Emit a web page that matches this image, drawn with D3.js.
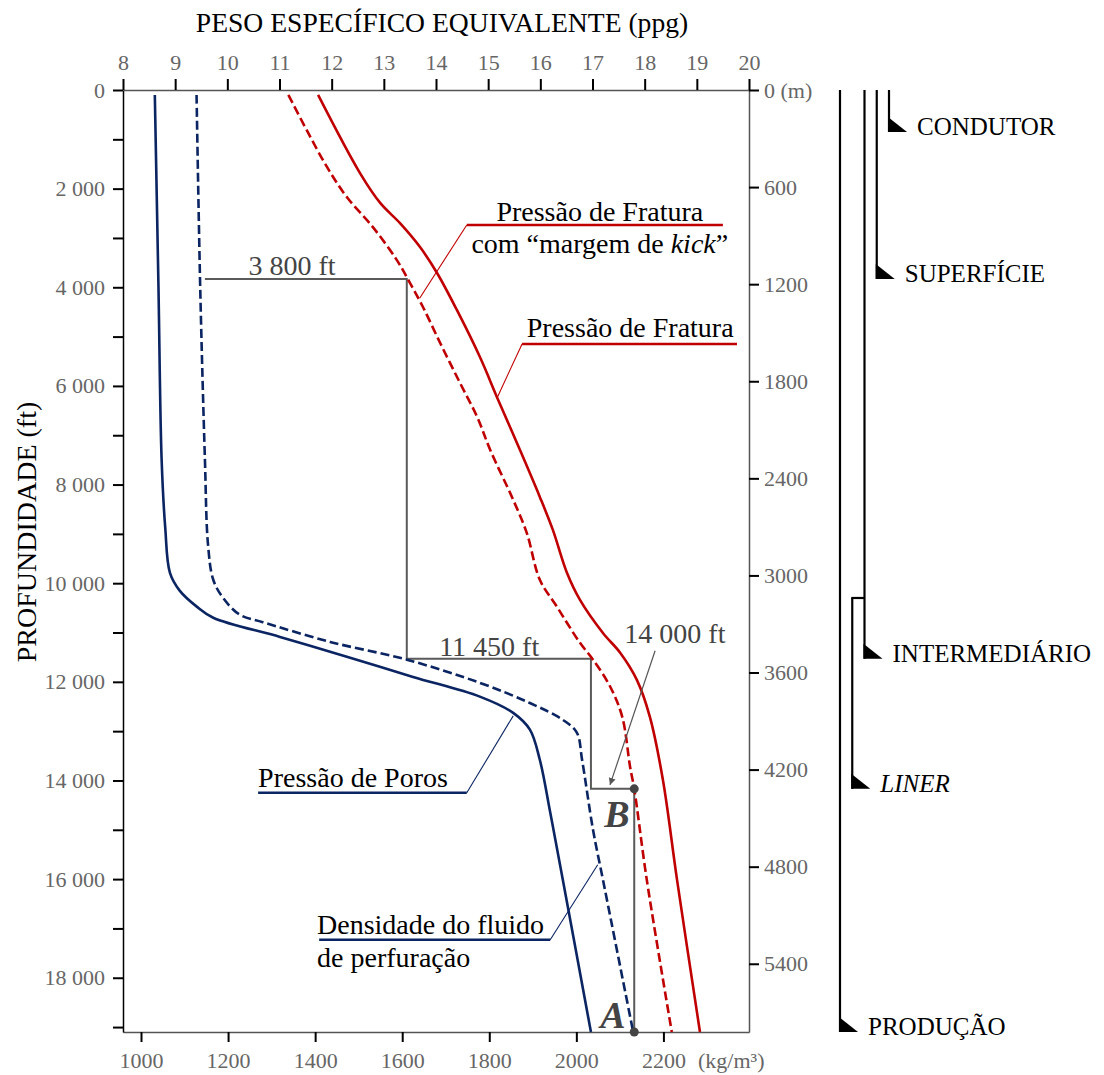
<!DOCTYPE html>
<html>
<head>
<meta charset="utf-8">
<script src="https://cdn.jsdelivr.net/npm/d3@7/dist/d3.min.js"></script>
<style>
  body { margin: 0; background: #fff; }
  svg text { font-family: "Liberation Serif", "Times New Roman", serif; }
</style>
</head>
<body>
<div id="chart"></div>
<script>

// Curves: depth (ft) and equivalent mud weight (ppg).
const poreDepth = [100, 4000, 7480, 8880, 9790, 10155, 10480, 10700, 11090, 11490, 11900, 12300, 12630, 12970, 13580, 14650, 16010, 19100];
const porePpg   = [8.61, 8.68, 8.74, 8.81, 8.90, 9.09, 9.42, 9.73, 11.01, 12.29, 13.56, 14.84, 15.48, 15.80, 15.99, 16.19, 16.43, 16.97];

const mudDepth = [100, 4000, 7480, 9220, 9930, 10300, 10640, 10790, 11190, 11550, 12020, 12430, 12770, 13030, 13580, 15000, 16010, 19100];
const mudPpg   = [9.41, 9.48, 9.57, 9.63, 9.73, 9.92, 10.24, 10.68, 11.97, 13.44, 14.84, 15.80, 16.43, 16.70, 16.80, 17.01, 17.20, 17.78];

const fracDepth = [100, 1680, 2290, 2700, 3180, 3710, 4460, 5410, 6280, 7300, 8250, 8920, 9790, 10340, 11010, 11410, 11960, 12710, 13990, 16010, 19100];
const fracPpg   = [11.74, 12.54, 12.93, 13.31, 13.69, 14.02, 14.40, 14.84, 15.19, 15.61, 15.99, 16.24, 16.51, 16.76, 17.20, 17.53, 17.85, 18.10, 18.35, 18.62, 19.06];

const kickDepth = [100, 810, 1560, 2170, 2780, 3450, 3910, 4400, 5130, 5940, 6630, 7300, 8310, 8980, 9930, 10480, 11210, 11550, 12100, 12710, 13720, 14170, 16010, 19100];
const kickPpg   = [11.17, 11.52, 11.91, 12.29, 12.79, 13.25, 13.50, 13.75, 14.08, 14.46, 14.79, 15.04, 15.48, 15.74, 15.99, 16.32, 16.76, 17.01, 17.34, 17.57, 17.72, 17.80, 18.04, 18.52];

// Casing seats (step line) and points B / A.
const stepDepth = [3830, 11530, 14170, 19100];
const stepPpg   = [9.57, 13.44, 16.97, 17.80];
const stepLabels = ["3 800 ft", "11 450 ft", "14 000 ft"];

// Casing scheme.
const casingNames = ["PRODUÇÃO", "LINER", "INTERMEDIÁRIO", "SUPERFÍCIE", "CONDUTOR"];
const casingTop   = [0, 10300, 0, 0, 0];
const casingShoe  = [19100, 14170, 11530, 3830, 850];

// Ticks.
const ppgTicks   = [8, 9, 10, 11, 12, 13, 14, 15, 16, 17, 18, 19, 20];
const ftTicks    = [0, 1000, 2000, 3000, 4000, 5000, 6000, 7000, 8000, 9000, 10000, 11000, 12000, 13000, 14000, 15000, 16000, 17000, 18000, 19000];
const meterTicks = [0, 600, 1200, 1800, 2400, 3000, 3600, 4200, 4800, 5400];
const kgTicks    = [1000, 1200, 1400, 1600, 1800, 2000, 2200];

const KG_PER_PPG = 119.83;
const FT_PER_M = 3.28084;

const navy = "#0b2462";
const red = "#c00000";
const grey = "#444";
const tickGrey = "#666";

// Set up the SVG.
const svg = d3.select("#chart").append("svg")
    .attr("width", 1104)
    .attr("height", 1075);

const x = d3.scaleLinear().domain([8, 20]).range([123, 749]);
const y = d3.scaleLinear().domain([0, 19100]).range([90, 1032]);
const xKg = d3.scaleLinear().domain([8 * KG_PER_PPG, 20 * KG_PER_PPG]).range(x.range());
const yM = d3.scaleLinear().domain([0, 19100 / FT_PER_M]).range(y.range());

const spaceFmt = d => d3.format(",")(d).replace(",", " ");

function styleAxis(g, domainColor) {
    g.select(".domain").attr("stroke", domainColor).attr("stroke-width", 1.5);
    g.selectAll(".tick line").attr("stroke", "#000").attr("stroke-width", 2);
    g.selectAll(".tick text")
        .attr("fill", tickGrey)
        .attr("font-size", 22)
        .attr("font-family", "Liberation Serif");
}

// Top axis (ppg)
svg.append("g")
    .attr("transform", "translate(0,90)")
    .call(d3.axisTop(x).tickValues(ppgTicks).tickSize(11).tickSizeOuter(0).tickPadding(9))
    .call(g => styleAxis(g, "#555"));

// Bottom axis (kg/m3)
svg.append("g")
    .attr("transform", "translate(0,1032)")
    .call(d3.axisBottom(xKg).tickValues(kgTicks).tickSize(10).tickSizeOuter(0).tickPadding(10)
        .tickFormat(d3.format("d")))
    .call(g => styleAxis(g, "#555"));

// Left axis (ft)
svg.append("g")
    .attr("transform", "translate(123,0)")
    .call(d3.axisLeft(y).tickValues(ftTicks).tickSize(10).tickSizeOuter(0).tickPadding(8)
        .tickFormat(d => d % 2000 === 0 ? spaceFmt(d) : ""))
    .call(g => styleAxis(g, "#000"));

// Right axis (m)
svg.append("g")
    .attr("transform", "translate(749,0)")
    .call(d3.axisRight(yM).tickValues(meterTicks).tickSize(10).tickSizeOuter(0).tickPadding(5)
        .tickFormat(d => d === 0 ? "0 (m)" : d))
    .call(g => styleAxis(g, "#555"));

svg.append("text")
    .attr("x", 698).attr("y", 1068)
    .attr("fill", tickGrey).attr("font-size", 22)
    .text("(kg/m³)");

// Axis titles
svg.append("text")
    .attr("x", 442).attr("y", 32)
    .attr("text-anchor", "middle")
    .attr("font-size", 27.6)
    .text("PESO ESPECÍFICO EQUIVALENTE (ppg)");

svg.append("text")
    .attr("transform", "translate(36,532) rotate(-90)")
    .attr("text-anchor", "middle")
    .attr("font-size", 28)
    .text("PROFUNDIDADE (ft)");

// Step line of casing seats
const stepPts = [[stepPpg[0], stepDepth[0]]];
for (let i = 1; i < stepDepth.length; i++) {
    stepPts.push([stepPpg[i], stepDepth[i - 1]]);
    stepPts.push([stepPpg[i], stepDepth[i]]);
}
svg.append("path")
    .attr("d", d3.line().x(d => x(d[0])).y(d => y(d[1]))(stepPts))
    .attr("fill", "none")
    .attr("stroke", "#5a5a5a")
    .attr("stroke-width", 2);

// Curves
const line = d3.line()
    .x(d => x(d[1]))
    .y(d => y(d[0]))
    .curve(d3.curveCatmullRom.alpha(0.5));

const curves = [
    {depth: poreDepth, ppg: porePpg, color: navy, dash: null},
    {depth: mudDepth, ppg: mudPpg, color: navy, dash: "9,4"},
    {depth: fracDepth, ppg: fracPpg, color: red, dash: null},
    {depth: kickDepth, ppg: kickPpg, color: red, dash: "9,4"}
];

curves.forEach(c => {
    svg.append("path")
        .attr("d", line(d3.zip(c.depth, c.ppg)))
        .attr("fill", "none")
        .attr("stroke", c.color)
        .attr("stroke-width", 2.6)
        .attr("stroke-dasharray", c.dash);
});

// Points B and A
const last = stepDepth.length - 1;
[[stepPpg[last], stepDepth[last - 1]], [stepPpg[last], stepDepth[last]]].forEach(p => {
    svg.append("circle")
        .attr("cx", x(p[0])).attr("cy", y(p[1]))
        .attr("r", 4.5).attr("fill", grey);
});

svg.append("text")
    .attr("x", x(17.47)).attr("y", y(14940))
    .attr("text-anchor", "middle")
    .attr("font-size", 38).attr("font-weight", "bold").attr("font-style", "italic")
    .attr("fill", grey)
    .text("B");
svg.append("text")
    .attr("x", x(17.39)).attr("y", y(19010))
    .attr("text-anchor", "middle")
    .attr("font-size", 38).attr("font-weight", "bold").attr("font-style", "italic")
    .attr("fill", grey)
    .text("A");

// Depth labels on the step line
const depthLabelPos = [[11.24, 3750], [15.02, 11470], [18.58, 11210]];
depthLabelPos.forEach((p, i) => {
    svg.append("text")
        .attr("x", x(p[0])).attr("y", y(p[1]))
        .attr("text-anchor", "middle")
        .attr("font-size", 28)
        .attr("fill", grey)
        .text(stepLabels[i]);
});

// Arrow for 14 000 ft
svg.append("defs").append("marker")
    .attr("id", "arrow")
    .attr("viewBox", "0 0 10 10")
    .attr("refX", 10).attr("refY", 5)
    .attr("markerWidth", 7).attr("markerHeight", 11)
    .attr("markerUnits", "userSpaceOnUse")
    .attr("orient", "auto")
  .append("path")
    .attr("d", "M0,0 L10,5 L0,10 Z")
    .attr("fill", "#555");

svg.append("line")
    .attr("x1", x(18.2)).attr("y1", y(11370))
    .attr("x2", x(17.335)).attr("y2", y(14090))
    .attr("stroke", "#555").attr("stroke-width", 1.2)
    .attr("marker-end", "url(#arrow)");

// Callout labels: underline, leader and text (data units)
const callouts = [
    {lines: ["Pressão de Fratura", null], color: red, anchor: "middle", tx: 17.14, ty: [2655, 3304],
     u: [14.59, 19.50, 2736], leader: [13.69, 4216], from: 0},
    {lines: ["Pressão de Fratura"], color: red, anchor: "start", tx: 15.74, ty: [5007],
     u: [15.65, 19.77, 5149], leader: [15.17, 6243], from: 0},
    {lines: ["Pressão de Poros"], color: navy, anchor: "start", tx: 10.59, ty: [14128],
     u: [10.59, 14.59, 14250], leader: [15.48, 12690], from: 1},
    {lines: ["Densidade do fluido", "de perfuração"], color: navy, anchor: "start", tx: 11.72, ty: [17108, 17777],
     u: [11.76, 16.19, 17230], leader: [17.10, 15710], from: 1}
];

callouts.forEach(c => {
    const g = svg.append("g");
    c.lines.forEach((t, i) => {
        const txt = g.append("text")
            .attr("x", x(c.tx)).attr("y", y(c.ty[i]))
            .attr("text-anchor", c.anchor)
            .attr("font-size", 28);
        if (t === null) {
            txt.append("tspan").text("com “margem de ");
            txt.append("tspan").attr("font-style", "italic").text("kick");
            txt.append("tspan").text("”");
        } else {
            txt.text(t);
        }
    });
    // underline
    g.append("line")
        .attr("x1", x(c.u[0])).attr("x2", x(c.u[1]))
        .attr("y1", y(c.u[2])).attr("y2", y(c.u[2]))
        .attr("stroke", c.color).attr("stroke-width", 2.4);
    // leader from the underline end to the curve
    g.append("line")
        .attr("x1", x(c.u[c.from])).attr("y1", y(c.u[2]))
        .attr("x2", x(c.leader[0])).attr("y2", y(c.leader[1]))
        .attr("stroke", c.color).attr("stroke-width", 1.1);
});

// Casing scheme on the right
const xc = d3.scalePoint().domain(casingNames).range([840, 889]);

casingNames.forEach((name, i) => {
    const cx = xc(name);
    svg.append("line")
        .attr("x1", cx).attr("x2", cx)
        .attr("y1", y(casingTop[i])).attr("y2", y(casingShoe[i]))
        .attr("stroke", "#000").attr("stroke-width", 2.2);

    // shoe
    const sy = y(casingShoe[i]);
    svg.append("path")
        .attr("d", `M${cx - 1},${sy - 15} L${cx - 1},${sy} L${cx + 18},${sy} Z`)
        .attr("fill", "#000");

    svg.append("text")
        .attr("x", cx + 28).attr("y", sy + 3)
        .attr("font-size", 25)
        .attr("font-style", name === "LINER" ? "italic" : "normal")
        .text(name);
});

// Liner hanger
svg.append("line")
    .attr("x1", xc("LINER") - 1).attr("x2", xc("INTERMEDIÁRIO"))
    .attr("y1", y(casingTop[1])).attr("y2", y(casingTop[1]))
    .attr("stroke", "#000").attr("stroke-width", 2.2);

</script>
</body>
</html>
